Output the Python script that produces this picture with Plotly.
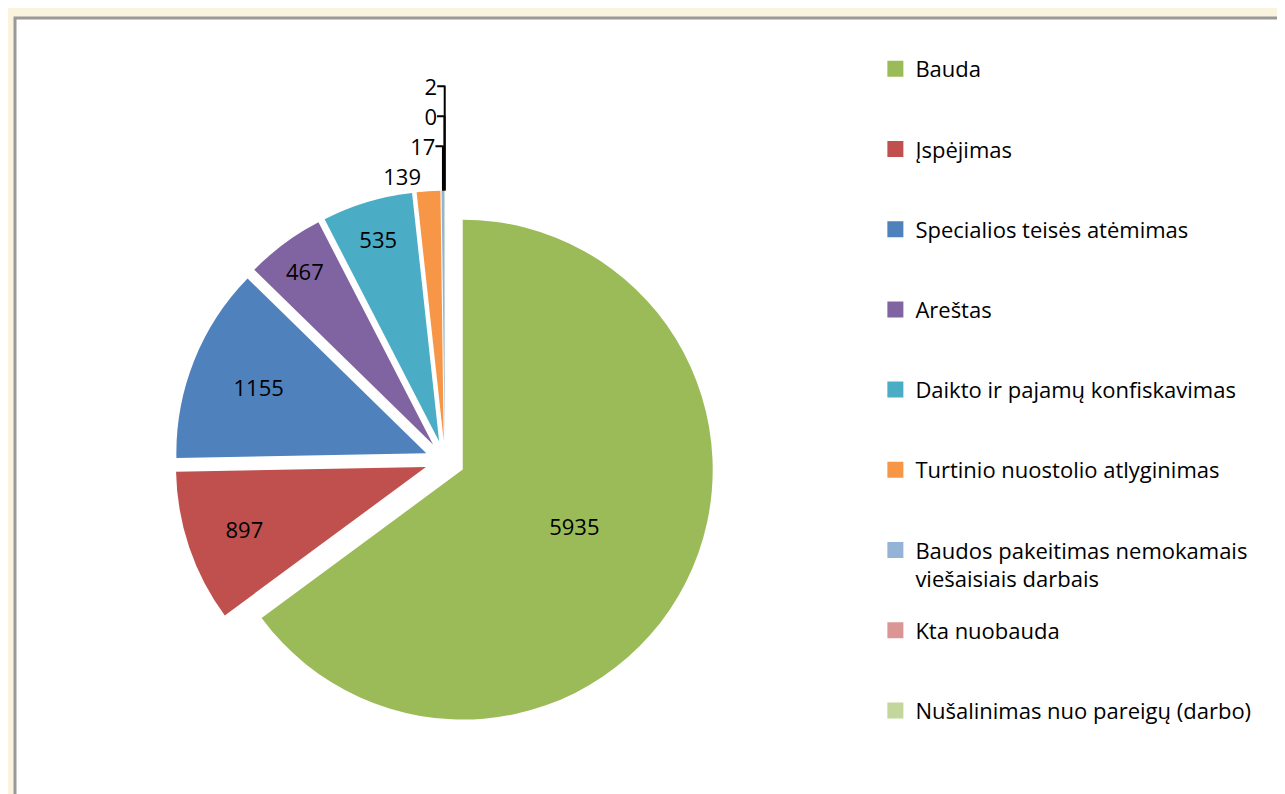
import plotly.graph_objects as go

categories = [
    "Bauda",
    "Įspėjimas",
    "Specialios teisės atėmimas",
    "Areštas",
    "Daikto ir pajamų konfiskavimas",
    "Turtinio nuostolio atlyginimas",
    "Baudos pakeitimas nemokamais<br>viešaisiais darbais",
    "Kta nuobauda",
    "Nušalinimas nuo pareigų (darbo)",
]
values = [5935, 897, 1155, 467, 535, 139, 17, 0, 2]
colors = ["#9BBB59", "#C0504D", "#4F81BD", "#8064A2", "#4BACC6",
          "#F79646", "#95B3D7", "#DA9694", "#C3D69B"]

FONT = "Open Sans, Lato, sans-serif"

text_pos = ["inside" if v >= 400 else "outside" for v in values]

fig = go.Figure()
fig.add_trace(go.Pie(
    labels=[c.replace("<br>", " ") for c in categories],
    values=values,
    text=[str(v) for v in values],
    textinfo="text",
    textposition=text_pos,
    insidetextorientation="horizontal",
    sort=False,
    direction="clockwise",
    rotation=0,
    pull=[0.08] * len(values),
    marker=dict(colors=colors, line=dict(width=0)),
    textfont=dict(size=22, color="black", family=FONT),
    outsidetextfont=dict(size=22, color="black", family=FONT),
    domain=dict(x=[0.10, 0.58], y=[0.09, 0.77]),
    hoverinfo="label+value+percent",
    showlegend=False,
))

# legend entries (evenly spaced like the original), one group per category
for c, col in zip(categories, colors):
    n = c.count("<br>") + 1
    fig.add_trace(go.Scatter(
        x=[None], y=[None], mode="markers", name=c + "<br> " * (2 - n),
        marker=dict(symbol="square", size=16, color=col),
        legendgroup=c, showlegend=True, hoverinfo="skip",
    ))

fig.update_layout(
    width=1285, height=794,
    margin=dict(l=0, r=0, t=0, b=0, autoexpand=False),
    paper_bgcolor="#FAF3DE",
    plot_bgcolor="rgba(0,0,0,0)",
    font=dict(family=FONT, size=22, color="black"),
    xaxis=dict(visible=False, fixedrange=True),
    yaxis=dict(visible=False, fixedrange=True),
    legend=dict(
        x=0.675, y=1 - 40 / 794, xanchor="left", yanchor="top",
        valign="top",
        bgcolor="rgba(0,0,0,0)",
        font=dict(size=22, color="black", family=FONT),
        tracegroupgap=20,
        itemwidth=30,
        maxheight=1,
    ),
    shapes=[dict(type="rect", xref="paper", yref="paper",
                 x0=7 / 1285, x1=1.02, y0=-0.02, y1=1 - 10 / 794,
                 fillcolor="white", line=dict(color="#9A9A9A", width=3),
                 layer="below")],
)

fig.write_html("out.html")
